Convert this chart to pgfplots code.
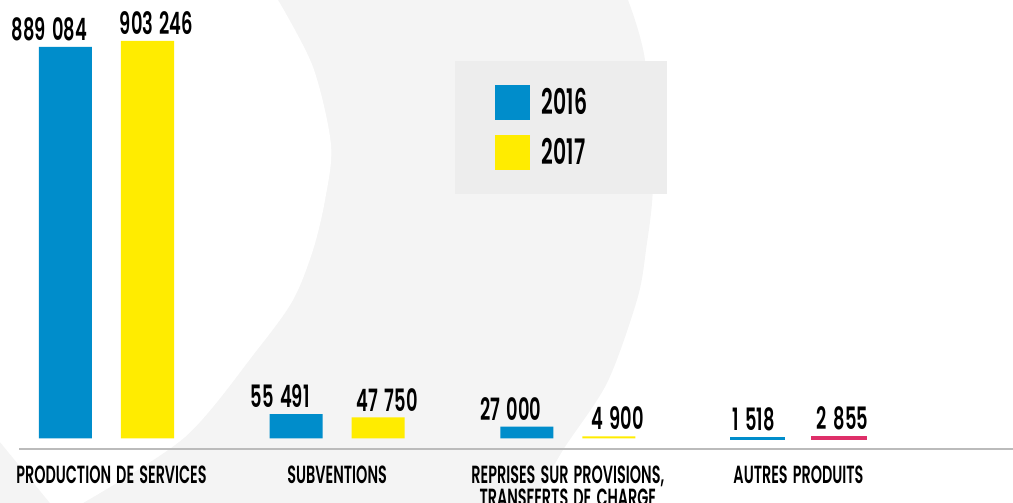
\documentclass[border=0pt]{standalone}
\usepackage{fontspec}
\setmainfont{Poppins SemiBold}[FakeStretch=0.58, WordSpace=1.5]
\usepackage{pgfplots}
\pgfplotsset{compat=1.18}
\definecolor{cblue}{HTML}{008DCB}
\definecolor{cyellow}{HTML}{FFEC00}
\definecolor{cmag}{HTML}{DE2F69}
\definecolor{bggray}{HTML}{F4F4F4}
\definecolor{leggray}{HTML}{EDEDED}
\definecolor{axgray}{HTML}{BBBBBB}
\begin{document}
\begin{tikzpicture}
\begin{scope}[x=0.5pt,y=-0.5pt,shift={(0pt,251.5pt)}]
\fill[bggray] (0,0) -- plot[smooth] coordinates {(628,0) (645,60) (653,180) (646,250) (637,300) (607,383) (563,450) (533,503)} -- (0,503) -- cycle;
\fill[white] (0,0) -- plot[smooth] coordinates {(278,0) (313,67) (331,145) (325,200) (313,250) (293,300) (257,350) (185,437) (83,503)} -- (50,503) -- (0,442) -- cycle;
\fill[leggray] (455,61) rectangle (667,194);
\draw[axgray, line width=0.75pt] (19,449) -- (1013,449);
\end{scope}
\begin{axis}[
  at={(0pt,27pt)}, anchor=south west, scale only axis,
  width=506.5pt, height=224.5pt,
  xmin=-0.4617, xmax=3.930, ymin=-23846, ymax=995834,
  ybar, bar width=0.2298,
  axis x line=bottom, axis y line=none,
  x axis line style={draw=none},
  xtick={0,1,2,3},
  xticklabels={{\hspace*{5pt}PRODUCTION DE SERVICES}, SUBVENTIONS, {REPRISES SUR PROVISIONS,\\TRANSFERTS DE CHARGE}, AUTRES PRODUITS},
  xticklabel style={font=\fontsize{12.4}{11.5}\selectfont, align=center, anchor=north, inner sep=0pt, yshift=-8.5pt},
  major tick length=0pt, xtick style={draw=none},
  ytick=\empty,
  clip=false,
  point meta=explicit symbolic,
  nodes near coords={\pgfplotspointmeta},
  every node near coord/.append style={font=\fontsize{15.4}{16}\selectfont, anchor=south, inner sep=0pt, yshift=3pt, text=black},
  legend image code/.code={\fill[#1] (0pt,-8.75pt) rectangle (17.5pt,8.75pt);},
  legend style={at={(rel axis cs:0.4886,0.8107)}, anchor=north west, draw=none, fill=none, inner sep=0pt, outer sep=0pt, row sep=7.5pt, column sep=6pt, nodes={inner sep=0pt, font=\fontsize{17.6}{18}\selectfont}},
  legend cell align=left,
]
\addplot[fill=cblue, draw=none, bar shift=-0.17775, every node near coord/.append style={xshift=-8pt}] coordinates {(0,889084) [889 084] (1,55491) [55 491] (2,27000) [27 000]};
\addlegendentry{2016}
\addplot[fill=cyellow, draw=none, bar shift=0.17775, every node near coord/.append style={xshift=4.5pt}] coordinates {(0,903246) [903 246] (1,47750) [47 750] (2,4900) [4 900]};
\addlegendentry{2017}
\addplot[fill=cblue, draw=cblue, line width=1.2pt, bar shift=-0.17775, forget plot, every node near coord/.append style={xshift=-2pt}] coordinates {(3,1518) [1 518]};
\addplot[fill=cmag, draw=cmag, line width=1.5pt, bar shift=0.17775, forget plot, every node near coord/.append style={xshift=1.5pt}] coordinates {(3,2855) [2 855]};
\end{axis}
\pgfresetboundingbox
\path[use as bounding box] (0,0) rectangle (506.5pt,251.5pt);
\end{tikzpicture}
\end{document}
